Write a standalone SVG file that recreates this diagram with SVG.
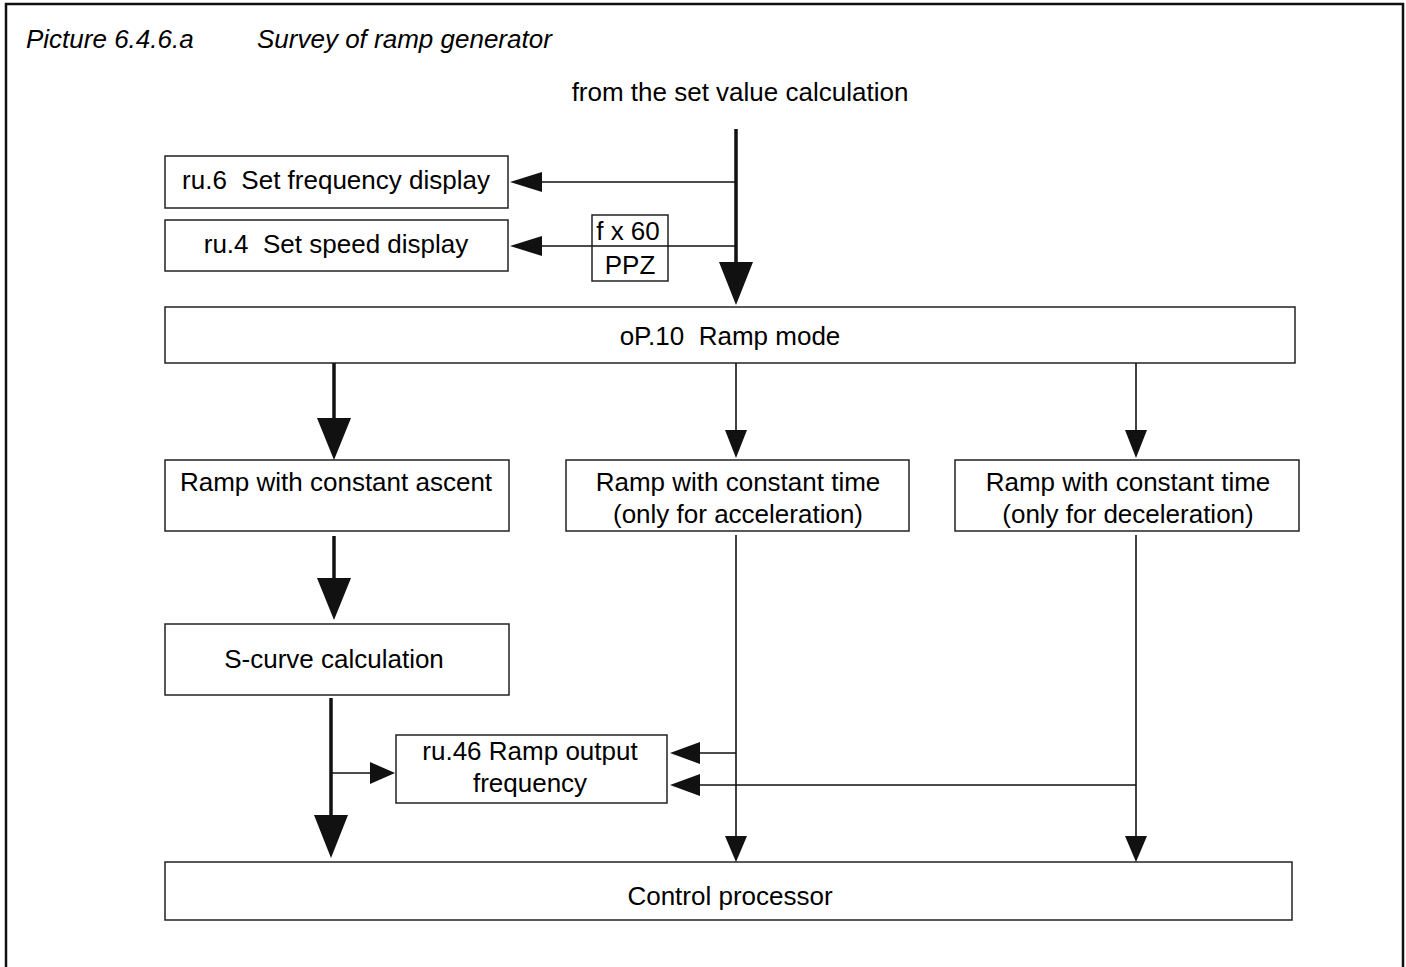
<svg xmlns="http://www.w3.org/2000/svg" width="1406" height="967" viewBox="0 0 1406 967">
<style>
  .box { fill: #fff; stroke: #222; stroke-width: 1.5; }
  .t { font-family: "Liberation Sans", Arial, sans-serif; font-size: 26px; fill: #000; white-space: pre; }
  .c { text-anchor: middle; }
  .title { font-family: "Liberation Sans", Arial, sans-serif; font-size: 26px; font-style: italic; fill: #000; }
  .thin { stroke: #111; stroke-width: 1.6; fill: none; }
  .thick { stroke: #111; stroke-width: 3.5; fill: none; }
  .head { fill: #111; stroke: none; }
</style>
<rect x="0" y="0" width="1406" height="967" fill="#fff"/>
<rect x="6" y="4" width="1397" height="990" fill="none" stroke="#111" stroke-width="2.5"/>
<g id="title">
  <text class="title" x="26" y="48">Picture 6.4.6.a</text>
  <text class="title" x="257" y="48">Survey of ramp generator</text>
</g>
<g id="source">
  <text class="t c" x="740" y="101">from the set value calculation</text>
</g>
<g id="ru6">
  <rect class="box" x="165" y="156" width="343" height="52"/>
  <text class="t c" x="336" y="189" xml:space="preserve">ru.6  Set frequency display</text>
</g>
<g id="ru4">
  <rect class="box" x="165" y="220" width="343" height="51"/>
  <text class="t c" x="336" y="253" xml:space="preserve">ru.4  Set speed display</text>
</g>
<g id="ppz">
  <rect class="box" x="592" y="215" width="76" height="66"/>
  <text class="t c" x="628" y="240">f x 60</text>
  <text class="t c" x="630" y="274">PPZ</text>
</g>
<g id="op10">
  <rect class="box" x="165" y="307" width="1130" height="56"/>
  <text class="t c" x="730" y="345" xml:space="preserve">oP.10  Ramp mode</text>
</g>
<g id="ascent">
  <rect class="box" x="165" y="460" width="344" height="71"/>
  <text class="t c" x="336" y="491">Ramp with constant ascent</text>
</g>
<g id="accel">
  <rect class="box" x="566" y="460" width="343" height="71"/>
  <text class="t c" x="738" y="491">Ramp with constant time</text>
  <text class="t c" x="738" y="523">(only for acceleration)</text>
</g>
<g id="decel">
  <rect class="box" x="955" y="460" width="344" height="71"/>
  <text class="t c" x="1128" y="491">Ramp with constant time</text>
  <text class="t c" x="1128" y="523">(only for deceleration)</text>
</g>
<g id="scurve">
  <rect class="box" x="165" y="624" width="344" height="71"/>
  <text class="t c" x="334" y="668">S-curve calculation</text>
</g>
<g id="ru46">
  <rect class="box" x="396" y="735" width="271" height="68"/>
  <text class="t c" x="530" y="760">ru.46 Ramp output</text>
  <text class="t c" x="530" y="792">frequency</text>
</g>
<g id="control">
  <rect class="box" x="165" y="862" width="1127" height="58"/>
  <text class="t c" x="730" y="905">Control processor</text>
</g>
<g id="connectors">
  <line class="thick" x1="736" y1="129" x2="736" y2="265"/>
  <polygon class="head" points="719,262 753,262 736,305"/>
  <line class="thin" x1="736" y1="182" x2="540" y2="182"/>
  <polygon class="head" points="510,182 542,172 542,192"/>
  <line class="thin" x1="736" y1="246" x2="540" y2="246"/>
  <polygon class="head" points="510,246 542,236 542,256"/>
  <line class="thick" x1="334" y1="363" x2="334" y2="420"/>
  <polygon class="head" points="317,418 351,418 334,460"/>
  <line class="thin" x1="736" y1="363" x2="736" y2="432"/>
  <polygon class="head" points="725,430 747,430 736,458"/>
  <line class="thin" x1="1136" y1="363" x2="1136" y2="432"/>
  <polygon class="head" points="1125,430 1147,430 1136,458"/>
  <line class="thick" x1="334" y1="536" x2="334" y2="580"/>
  <polygon class="head" points="317,578 351,578 334,620"/>
  <line class="thick" x1="331" y1="698" x2="331" y2="818"/>
  <polygon class="head" points="314,815 348,815 331,858"/>
  <line class="thin" x1="331" y1="773" x2="372" y2="773"/>
  <polygon class="head" points="395,773 370,762 370,784"/>
  <line class="thin" x1="736" y1="535" x2="736" y2="840"/>
  <polygon class="head" points="725,836 747,836 736,862"/>
  <line class="thin" x1="736" y1="753" x2="698" y2="753"/>
  <polygon class="head" points="670,753 700,742 700,764"/>
  <line class="thin" x1="1136" y1="535" x2="1136" y2="840"/>
  <polygon class="head" points="1125,836 1147,836 1136,862"/>
  <line class="thin" x1="1136" y1="785" x2="698" y2="785"/>
  <polygon class="head" points="670,785 700,774 700,796"/>
</g>
</svg>
